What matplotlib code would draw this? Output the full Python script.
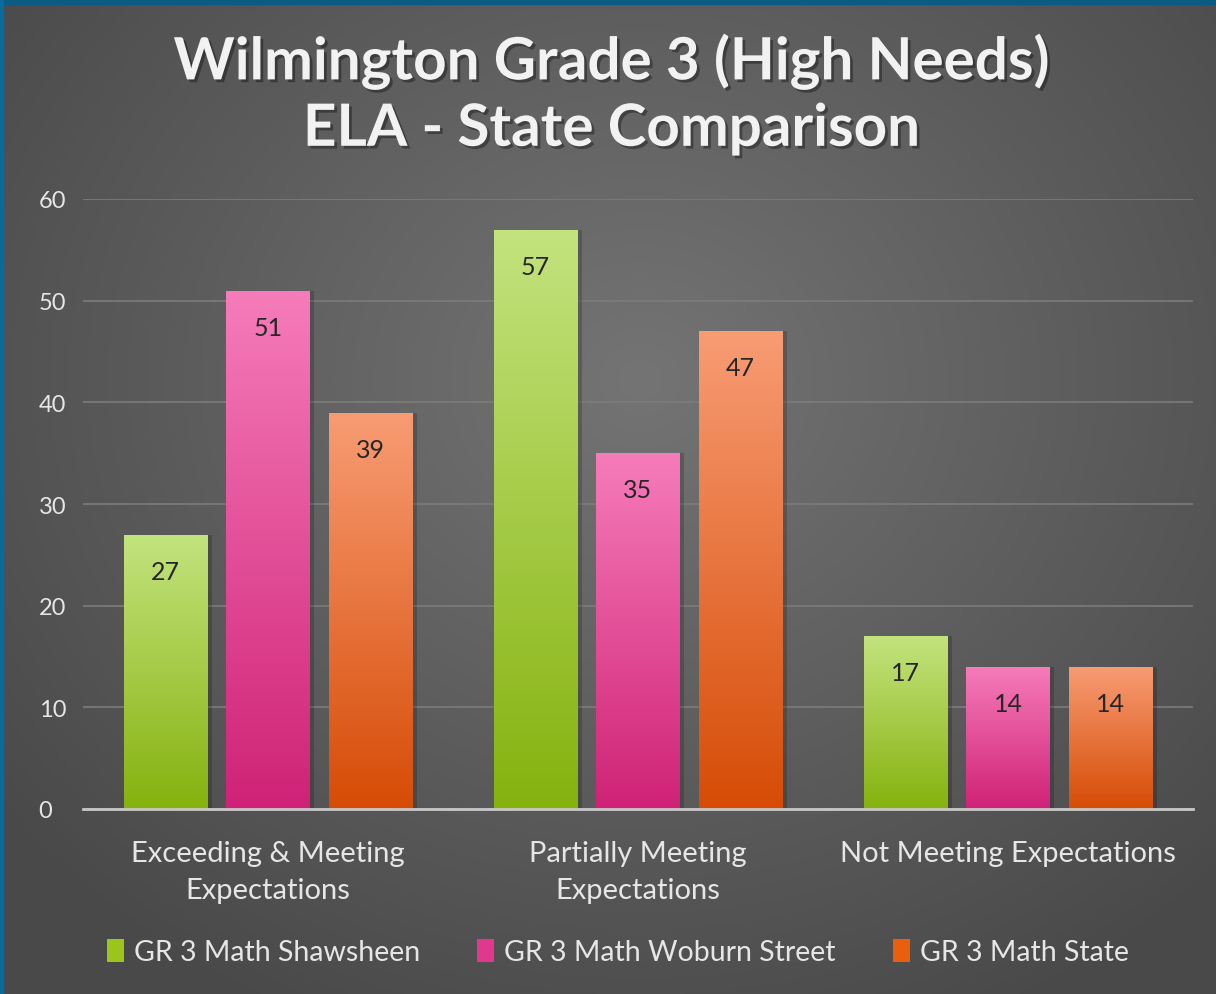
import numpy as np
import matplotlib.pyplot as plt
import matplotlib.patheffects as pe
from matplotlib.patches import Rectangle, Patch
from matplotlib.colors import LinearSegmentedColormap

categories = ["Exceeding & Meeting\nExpectations", "Partially Meeting\nExpectations",
              "Not Meeting Expectations"]
series = ["GR 3 Math Shawsheen", "GR 3 Math Woburn Street", "GR 3 Math State"]
shawsheen = [27, 57, 17]
woburn = [51, 35, 14]
state = [39, 47, 14]
values = [shawsheen, woburn, state]

# top / bottom colours of each series' gradient
grads = [("#c3e37e", "#86b20e"), ("#f67cba", "#cf2276"), ("#f89c74", "#d64c06")]
mids = ["#9cc51c", "#e0388c", "#e8600e"]

plt.rcParams['font.family'] = ['Lato', 'DejaVu Sans']

fig = plt.figure(figsize=(12.16, 9.95), dpi=100)

# background radial gradient
bg = fig.add_axes([0, 0, 1, 1], zorder=-10)
yy, xx = np.mgrid[0:995, 0:1216]
r = np.sqrt(((xx - 640) / 800.0) ** 2 + ((yy - 380) / 700.0) ** 2)
r = np.clip(r, 0, 1)
bg_cmap = LinearSegmentedColormap.from_list("bg", ["#747474", "#4a4a4a"])
bg.imshow(r, cmap=bg_cmap, aspect='auto', extent=[0, 1, 0, 1], origin='upper')
bg.set_axis_off()

# blue frame on top and left
fig.patches.append(Rectangle((0, 1 - 5 / 995), 1, 5 / 995, transform=fig.transFigure,
                             color="#0b5b85", zorder=5))
fig.patches.append(Rectangle((0, 0), 3 / 1216, 1, transform=fig.transFigure,
                             color="#0b6a9c", zorder=5))

ax = fig.add_axes([83 / 1216, 1 - 810 / 995, 1110 / 1216, 610 / 995])
ax.patch.set_alpha(0)

x = np.arange(len(categories))
width = 0.225
offset = 0.277
for i, vals in enumerate(values):
    cmap = LinearSegmentedColormap.from_list("g%d" % i, [grads[i][1], grads[i][0]])
    pos = x + (i - 1) * offset
    bars = ax.bar(pos, vals, width, color='none', zorder=3)
    for b, v in zip(bars, vals):
        x0, w = b.get_x(), b.get_width()
        # soft shadow on the right
        ax.add_patch(Rectangle((x0 + 0.012, 0), w, v, color='black', alpha=0.18, zorder=2,
                               linewidth=0))
        grad = np.linspace(0, 1, 256).reshape(-1, 1)
        im = ax.imshow(grad, cmap=cmap, aspect='auto', origin='lower',
                       extent=[x0, x0 + w, 0, v], zorder=3)
        im.set_clip_path(b)
        ax.text(x0 + w / 2, v - 3.6, str(v), ha='center', va='center',
                fontsize=18, color='#262626', zorder=4)

ax.set_xlim(-0.5, 2.5)
ax.set_ylim(0, 60)
ax.set_yticks(range(0, 61, 10))
ax.yaxis.grid(True, color='#7c7c7c', linewidth=1.2)
ax.set_axisbelow(True)
for s in ['top', 'right', 'left']:
    ax.spines[s].set_visible(False)
ax.spines['bottom'].set_color('#c8c8c8')
ax.spines['bottom'].set_linewidth(2)
ax.spines['bottom'].set_zorder(5)
ax.tick_params(axis='y', length=0, labelsize=17, colors='#e6e6e6', pad=32)
ax.tick_params(axis='x', length=0, labelsize=21, colors='#e6e6e6', pad=22)
ax.set_xticks(x)
ax.set_xticklabels(categories, linespacing=1.55)
for lbl in ax.get_yticklabels():
    lbl.set_horizontalalignment('left')

shadow = [pe.withSimplePatchShadow(offset=(2, -2), shadow_rgbFace='black', alpha=0.35)]
fig.text(0.503, 1 - 96 / 995, "Wilmington Grade 3 (High Needs)\nELA - State Comparison",
         ha='center', va='center', fontsize=42, fontweight='bold', color='#f2f2f2',
         linespacing=1.3, path_effects=shadow)

handles = [Patch(facecolor=mids[i], label=series[i]) for i in range(3)]
leg = fig.legend(handles=handles, loc='center', bbox_to_anchor=(0.508, 1 - 953 / 995),
                 ncol=3, frameon=False, fontsize=20.5, handlelength=0.6, handleheight=0.9,
                 handletextpad=0.35, columnspacing=2.0)
for t in leg.get_texts():
    t.set_color('#e6e6e6')

fig.savefig("out.png", dpi=100)
